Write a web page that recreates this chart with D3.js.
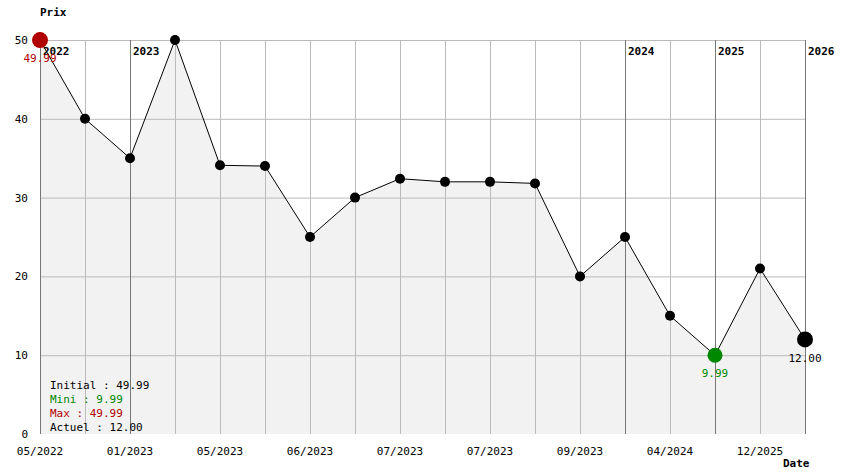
<!DOCTYPE html>
<head>
<meta charset="utf-8">
<script src="https://cdn.jsdelivr.net/npm/d3@7"></script>
<style>body{margin:0;background:#fff} text{font-family:"DejaVu Sans Mono",monospace;font-size:11px}</style>
</head>
<body>
<svg width="844" height="474"></svg>
<script>
// prices, one per sample, evenly spaced
var prices = [49.99, 40, 35, 50, 34.1, 34, 25, 30, 32.4, 32, 32, 31.8, 20, 25, 15, 9.99, 21, 12];
var dateLabels = ["05/2022", "", "01/2023", "", "05/2023", "", "06/2023", "", "07/2023", "", "07/2023", "", "09/2023", "", "04/2024", "", "12/2025", ""];
var years = [{i: 0, y: "2022"}, {i: 2, y: "2023"}, {i: 13, y: "2024"}, {i: 15, y: "2025"}, {i: 17, y: "2026"}];
var yTicks = [0, 10, 20, 30, 40, 50];

var svg = d3.select("svg");
var x = d3.scaleLinear().domain([0, prices.length - 1]).range([40, 805]);
var y = d3.scaleLinear().domain([0, 50]).range([434, 40]);

svg.append("path")
  .datum(prices)
  .attr("d", d3.area().x(function(d, i) { return x(i); }).y0(y(0)).y1(function(d) { return y(d); }))
  .style("fill", "#f2f2f2");

svg.selectAll(".hg").data(yTicks.slice(1)).enter().append("line")
  .attr("x1", 40).attr("x2", 805)
  .attr("y1", function(d) { return y(d) + 0.5; }).attr("y2", function(d) { return y(d) + 0.5; })
  .style("stroke", "#bbb");
svg.selectAll(".vg").data(prices).enter().append("line")
  .attr("x1", function(d, i) { return x(i) + 0.5; }).attr("x2", function(d, i) { return x(i) + 0.5; })
  .attr("y1", y(50)).attr("y2", y(0))
  .style("stroke", "#bbb");
svg.selectAll(".yl").data(years).enter().append("line")
  .attr("x1", function(d) { return x(d.i) + 0.5; }).attr("x2", function(d) { return x(d.i) + 0.5; })
  .attr("y1", y(50)).attr("y2", y(0))
  .style("stroke", "#777");
svg.selectAll(".yt").data(years).enter().append("text")
  .attr("x", function(d) { return x(d.i) + 3; }).attr("y", 55)
  .style("font-weight", "bold")
  .text(function(d) { return d.y; });

svg.selectAll(".ytk").data(yTicks).enter().append("text")
  .attr("x", 28).attr("y", function(d) { return y(d) + 4; })
  .attr("text-anchor", "end")
  .text(function(d) { return d; });
svg.selectAll(".xtk").data(dateLabels).enter().append("text")
  .attr("x", function(d, i) { return x(i); }).attr("y", 455)
  .attr("text-anchor", "middle")
  .text(function(d) { return d; });
svg.append("text").attr("x", 40).attr("y", 16).style("font-weight", "bold").text("Prix");
svg.append("text").attr("x", 783).attr("y", 467).style("font-weight", "bold").text("Date");

svg.append("path")
  .datum(prices)
  .attr("d", d3.line().x(function(d, i) { return x(i); }).y(function(d) { return y(d); }))
  .style("fill", "none").style("stroke", "#000");

var last = prices.length - 1, minI = prices.indexOf(d3.min(prices));
svg.selectAll(".pt").data(prices).enter().append("circle")
  .attr("cx", function(d, i) { return x(i); })
  .attr("cy", function(d) { return y(d); })
  .attr("r", function(d, i) { return i == 0 || i == last ? 8 : (i == minI ? 7.5 : 5); })
  .style("fill", function(d, i) { return i == 0 ? "#b00000" : (i == minI ? "#008800" : "#000"); });

svg.append("text").attr("x", x(0)).attr("y", y(prices[0]) + 22).attr("text-anchor", "middle").style("fill", "#b00000").text(prices[0].toFixed(2));
svg.append("text").attr("x", x(minI)).attr("y", y(prices[minI]) + 22).attr("text-anchor", "middle").style("fill", "#008800").text(prices[minI].toFixed(2));
svg.append("text").attr("x", x(last)).attr("y", y(prices[last]) + 23).attr("text-anchor", "middle").text(prices[last].toFixed(2));

var legend = [
  {t: "Initial : " + prices[0].toFixed(2), c: "#000"},
  {t: "Mini : " + d3.min(prices).toFixed(2), c: "#008800"},
  {t: "Max : " + prices[0].toFixed(2), c: "#b00000"},
  {t: "Actuel : " + prices[last].toFixed(2), c: "#000"}
];
svg.selectAll(".lg").data(legend).enter().append("text")
  .attr("x", 50).attr("y", function(d, i) { return 389 + i * 14; })
  .style("fill", function(d) { return d.c; })
  .text(function(d) { return d.t; });
</script>
</body>
</html>
